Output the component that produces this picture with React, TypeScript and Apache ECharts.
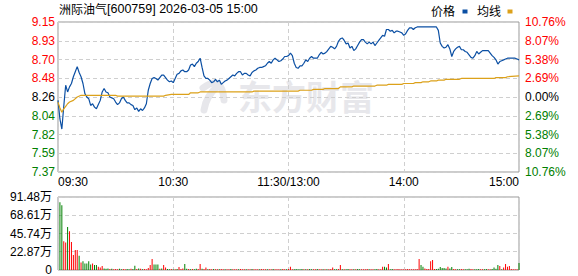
import React, { useEffect, useRef } from "react";
import * as echarts from "echarts";

const prevClose = 8.26;
const titleName = "洲际油气";
const titleCode = "[600759] 2026-03-05 15:00";
const legendNames = ["价格", "均线"];
const timeTicks = ["09:30", "10:30", "11:30/13:00", "14:00", "15:00"];
const priceTicks = ["7.37", "7.59", "7.82", "8.04", "8.26", "8.48", "8.70", "8.93", "9.15"];
const pctTicks = ["10.76%", "8.07%", "5.38%", "2.69%", "0.00%", "2.69%", "5.38%", "8.07%", "10.76%"];
const volTicks = ["0", "22.87万", "45.74万", "68.61万", "91.48万"];

// one price per minute, 09:30 .. 15:00 (241 minutes)
const price = [
  8.22, 8.0, 7.88, 8.15, 8.4, 8.32, 8.38, 8.42, 8.5, 8.56,
  8.62, 8.55, 8.5, 8.42, 8.3, 8.26, 8.24, 8.16, 8.18, 8.14,
  8.12, 8.17, 8.22, 8.32, 8.36, 8.32, 8.31, 8.26, 8.25, 8.24,
  8.2, 8.17, 8.19, 8.24, 8.26, 8.22, 8.19, 8.19, 8.17, 8.16,
  8.11, 8.13, 8.09, 8.12, 8.1, 8.13, 8.18, 8.34, 8.42, 8.48,
  8.49, 8.48, 8.46, 8.49, 8.52, 8.52, 8.49, 8.46, 8.44, 8.45,
  8.43, 8.48, 8.53, 8.54, 8.57, 8.58, 8.56, 8.56, 8.58, 8.64,
  8.65, 8.62, 8.66, 8.68, 8.72, 8.61, 8.51, 8.48, 8.48, 8.46,
  8.43, 8.44, 8.47, 8.44, 8.46, 8.41, 8.43, 8.45, 8.46, 8.48,
  8.5, 8.52, 8.51, 8.54, 8.56, 8.56, 8.52, 8.54, 8.54, 8.52,
  8.51, 8.55, 8.57, 8.58, 8.6, 8.61, 8.61, 8.62, 8.63, 8.66,
  8.68, 8.66, 8.7, 8.72, 8.7, 8.68, 8.69, 8.71, 8.74, 8.74,
  8.75, 8.78, 8.75, 8.66, 8.61, 8.6, 8.63, 8.63, 8.66, 8.7,
  8.68, 8.72, 8.74, 8.72, 8.72, 8.72, 8.76, 8.79, 8.77, 8.78,
  8.8, 8.83, 8.86, 8.85, 8.83, 8.86, 8.92, 8.95, 8.96, 8.93,
  8.89, 8.9, 8.84, 8.86, 8.81, 8.83, 8.87, 8.91, 8.94, 8.94,
  8.91, 8.89, 8.91, 8.89, 8.91, 8.87, 8.9, 8.93, 8.96, 8.99,
  8.98, 9.06, 9.06, 9.04, 9.05, 9.02, 9.04, 9.04, 9.03, 9.02,
  8.99, 9.01, 9.05, 9.08, 9.08, 9.06, 9.08, 9.09, 9.09, 9.09,
  9.09, 9.09, 9.09, 9.09, 9.09, 9.09, 9.09, 9.09, 9.05, 8.9,
  8.86, 8.84, 8.85, 8.88, 8.83, 8.74, 8.8, 8.83, 8.85, 8.86,
  8.82, 8.82, 8.8, 8.79, 8.76, 8.73, 8.72, 8.75, 8.8, 8.77,
  8.79, 8.81, 8.81, 8.81, 8.81, 8.78, 8.75, 8.73, 8.7, 8.65,
  8.68, 8.69, 8.7, 8.71, 8.72, 8.72, 8.72, 8.72, 8.72, 8.71,
  8.7,
];

// average price: [minute, price]
const avgMinutes = [0, 1, 2, 3, 4, 5, 6, 8, 10, 12, 30, 31, 55, 56, 59, 68, 69, 73, 74, 101, 102, 125, 126, 132, 133, 138, 139, 146, 147, 153, 154, 165, 166, 171, 172, 179, 180, 185, 186, 189, 190, 193, 194, 197, 198, 201, 202, 209, 210, 227, 228, 233, 234, 240];
const avgPrices = [8.2, 8.13, 8.08, 8.12, 8.15, 8.18, 8.2, 8.22, 8.26, 8.28, 8.28, 8.27, 8.27, 8.28, 8.29, 8.29, 8.31, 8.31, 8.32, 8.32, 8.33, 8.33, 8.34, 8.34, 8.35, 8.35, 8.36, 8.36, 8.38, 8.38, 8.39, 8.39, 8.4, 8.4, 8.41, 8.41, 8.42, 8.42, 8.43, 8.43, 8.44, 8.44, 8.45, 8.45, 8.46, 8.46, 8.47, 8.47, 8.48, 8.48, 8.49, 8.49, 8.5, 8.51];

// volume per minute (万)
const volume = [
  0, 85, 81, 36, 34.5, 54, 48.6, 35, 18.7, 25,
  25, 18, 9.5, 11, 8.3, 8.3, 11, 7, 8.3, 6.2,
  6.2, 4, 3, 5, 2, 1.5, 2, 1.2, 1.5, 1,
  1.2, 1, 1.5, 1, 1.2, 1, 1.2, 1, 1.5, 1.2,
  5.4, 1.2, 2, 1.5, 1, 1.2, 1, 2.5, 6.2, 13.7,
  7, 7, 7, 1.5, 2, 6.2, 3, 1.2, 1, 1.2,
  1, 1, 1.2, 3.7, 1.2, 2, 7.5, 1.5, 1.2, 1,
  1.2, 1, 1.5, 1.2, 7.5, 1.5, 1.2, 3, 1, 1.2,
  1, 1.2, 1, 0.8, 1, 1.2, 1, 1, 0.8, 1,
  1.2, 1, 0.8, 1, 1, 1.2, 1, 0.8, 1, 1,
  1, 1.2, 1, 1, 0.8, 1, 1.2, 1, 1, 0.8,
  1, 1, 1.2, 1, 0.8, 1, 1, 1.2, 1, 1,
  1.2, 4, 1, 1, 1.2, 1, 1, 1.2, 1, 1,
  1, 1.2, 1, 1, 1, 1.2, 1, 1, 1, 1,
  1, 1, 1.2, 3, 1, 1, 1.2, 6.2, 1, 1,
  1, 1.2, 1, 1, 1, 1, 1.2, 1, 1, 1,
  1, 1.2, 1, 1, 1, 1, 1.2, 1, 1, 4,
  4, 3, 7.5, 1, 1.2, 1, 1, 1.2, 1, 1,
  1, 1, 1.2, 1, 1, 1, 1, 1.2, 13.7, 6.2,
  4, 2, 1.2, 1.2, 11, 12.5, 1.2, 1.2, 1.5, 3.7,
  2.5, 2.5, 2, 4, 2, 3.7, 1.2, 1, 1, 1,
  1.2, 1, 1, 1, 1.5, 1.2, 1, 1, 1, 1.2,
  1, 1, 1, 1.2, 1, 1, 1.2, 3, 1.5, 6.2,
  5, 1, 3, 7.5, 4, 5, 1.2, 0.8, 0.8, 1,
  8.7,
];
const volDir =
  "GGGRRGRRRR" + "RGRGGGGGRG" + "GRRRGGGRGR" + "RRGGRRGGRG" + "GRGRGRRRRR" +
  "GGGRGRRGGR" + "GRGRRRGGRG" + "RGGRRGRRGR" + "RGRRGRRGRR" + "GRRRGRRRGR" +
  "RGRRRGRRRG" + "RRGRRRGRRG" + "RRRGGGGGRG" + "RGGRRGRRGR" + "GRRRGGRRGR" +
  "GGRRGRGGRR" + "RRGRRGGRRR" + "GGRGGRRRRR" + "RRRRRRRRRG" + "GRRRRRRGGG" +
  "GGGRGGRRGG" + "RRGGGRRGGG" + "RRGGRRGGGG" + "RGRRRRRRRR" + "G";

const RED = "#ff0000";
const GREEN = "#008000";
const BLUE = "#0b4fa3";
const ORANGE = "#dca11a";
const FONT = "'Liberation Sans', Arial, 'Noto Sans CJK SC', sans-serif";

const pct = (p: number) => (p / prevClose - 1) * 100;
const PCT_MAX = 10.76;
const PCT_STEP = 2.69;

export default function App() {
  const ref = useRef<HTMLDivElement>(null);
  useEffect(() => {
    if (!ref.current) return;
    const chart = echarts.init(ref.current, null, { renderer: "svg" });
    const dash = { type: [4, 3] as any, color: "#cfcfcf", width: 1 };
    const tickIdx = (v: any) => Math.round((Number(v) + PCT_MAX) / PCT_STEP);
    const signColor = (v: any) => {
      const n = Number(v);
      return n > 0.001 ? RED : n < -0.001 ? GREEN : "#000000";
    };
    const wm = "#e7e7eb";
    chart.setOption({
      animation: false,
      textStyle: { fontFamily: FONT },
      graphic: [
        {
          type: "bezierCurve",
          z: 0,
          silent: true,
          shape: { x1: 203, y1: 88, cpx1: 222, cpy1: 74, x2: 224, y2: 100 },
          style: { stroke: wm, lineWidth: 7, fill: "none", lineCap: "round" },
        },
        {
          type: "bezierCurve",
          z: 0,
          silent: true,
          shape: { x1: 218, y1: 86, cpx1: 206, cpy1: 96, x2: 204, y2: 110 },
          style: { stroke: wm, lineWidth: 7, fill: "none", lineCap: "round" },
        },
        {
          type: "text",
          z: 0,
          silent: true,
          x: 238,
          y: 95,
          style: {
            text: "东方财富",
            font: "bold 34px 'Noto Sans CJK SC', sans-serif",
            fill: wm,
            textVerticalAlign: "middle",
          },
        },
        {
          type: "text",
          x: 59,
          y: 8.5,
          style: {
            text: `{a|${titleName}}{b|${titleCode}}`,
            textVerticalAlign: "middle",
            rich: {
              a: { fontSize: 12, fontFamily: "'Noto Sans CJK SC', sans-serif", fill: "#000", color: "#000" },
              b: { fontSize: 12.5, fontFamily: FONT, fill: "#000", color: "#000" },
            },
          },
        },
        {
          type: "text",
          x: 431,
          y: 10,
          style: { text: legendNames[0], font: "12px 'Noto Sans CJK SC', sans-serif", fill: "#000", textVerticalAlign: "middle" },
        },
        { type: "rect", shape: { x: 462.5, y: 9.5, width: 5, height: 4 }, style: { fill: BLUE } },
        {
          type: "text",
          x: 477,
          y: 10,
          style: { text: legendNames[1], font: "12px 'Noto Sans CJK SC', sans-serif", fill: "#000", textVerticalAlign: "middle" },
        },
        { type: "rect", shape: { x: 507.5, y: 9.5, width: 5, height: 4 }, style: { fill: ORANGE } },
      ],
      grid: [
        { left: 58, right: 59, top: 22, height: 150, show: true, borderColor: "#999", borderWidth: 1, backgroundColor: "transparent" },
        { left: 58, right: 59, top: 197, height: 73, show: true, borderColor: "#999", borderWidth: 1, backgroundColor: "transparent" },
      ],
      xAxis: [
        {
          type: "value",
          gridIndex: 0,
          min: 0,
          max: 240,
          interval: 60,
          axisLine: { show: false },
          axisTick: { show: false },
          splitLine: { show: true, lineStyle: dash },
          axisLabel: {
            show: true,
            margin: 4,
            fontSize: 12,
            color: "#000",
            fontFamily: FONT,
            alignMinLabel: "left",
            alignMaxLabel: "right",
            formatter: (v: number) => timeTicks[Math.round(v / 60)],
          },
        },
        {
          type: "value",
          gridIndex: 1,
          min: 0,
          max: 240,
          interval: 60,
          axisLine: { show: false },
          axisTick: { show: false },
          splitLine: { show: true, lineStyle: dash },
          axisLabel: { show: false },
        },
      ],
      yAxis: [
        {
          type: "value",
          gridIndex: 0,
          position: "left",
          min: -PCT_MAX,
          max: PCT_MAX,
          interval: PCT_STEP,
          axisLine: { show: false },
          axisTick: { show: false },
          splitLine: { show: true, lineStyle: dash },
          axisLabel: {
            margin: 3,
            fontSize: 12,
            fontFamily: FONT,
            color: signColor,
            formatter: (v: number) => priceTicks[tickIdx(v)],
          },
        },
        {
          type: "value",
          gridIndex: 0,
          position: "right",
          min: -PCT_MAX,
          max: PCT_MAX,
          interval: PCT_STEP,
          axisLine: { show: false },
          axisTick: { show: false },
          splitLine: { show: false },
          axisLabel: {
            margin: 6,
            fontSize: 12,
            fontFamily: FONT,
            color: signColor,
            formatter: (v: number) => pctTicks[8 - tickIdx(v)],
          },
        },
        {
          type: "value",
          gridIndex: 1,
          min: 0,
          max: 91.48,
          interval: 22.87,
          axisLine: { show: false },
          axisTick: { show: false },
          splitLine: { show: true, lineStyle: dash },
          axisLabel: {
            margin: 6,
            fontSize: 12,
            fontFamily: FONT,
            color: "#000",
            formatter: (v: number) => volTicks[Math.round(v / 22.87)],
          },
        },
      ],
      series: [
        {
          type: "line",
          xAxisIndex: 0,
          yAxisIndex: 0,
          z: 3,
          showSymbol: false,
          data: price.map((p, i) => [i, pct(p)]),
          lineStyle: { color: BLUE, width: 1.2 },
          itemStyle: { color: BLUE },
        },
        {
          type: "line",
          xAxisIndex: 0,
          yAxisIndex: 0,
          z: 3,
          showSymbol: false,
          data: avgMinutes.map((m, i) => [m, pct(avgPrices[i])]),
          lineStyle: { color: ORANGE, width: 1.2 },
          itemStyle: { color: ORANGE },
        },
        {
          type: "bar",
          xAxisIndex: 1,
          yAxisIndex: 2,
          barWidth: 1,
          data: volume.map((v, i) => ({
            value: [i, v],
            itemStyle: { color: volDir[i] === "R" ? RED : GREEN },
          })),
        },
      ],
    });
    return () => chart.dispose();
  }, []);
  return (
    <div
      ref={ref}
      style={{ position: "absolute", left: 0, top: 0, width: 578, height: 276, background: "#fff" }}
    />
  );
}
